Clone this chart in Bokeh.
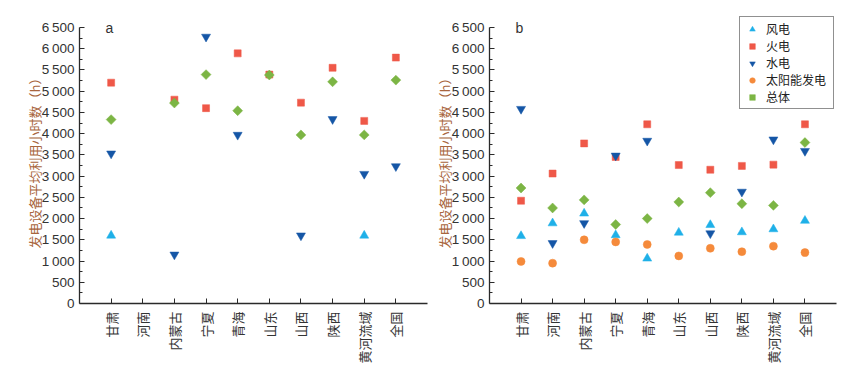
import numpy as np
from bokeh.plotting import figure
from bokeh.layouts import row
from bokeh.models import (FactorRange, Range1d, FixedTicker, Label, Legend,
                          LegendItem, ColumnDataSource)
from bokeh.embed import file_html
from bokeh.resources import INLINE

nan = float("nan")

# ---------------- data ----------------
regions = ["甘肃", "河南", "内蒙古", "宁夏", "青海", "山东", "山西", "陕西", "黄河流域", "全国"]
series_names = ["风电", "火电", "水电", "太阳能发电", "总体"]

# panel a
wind_a    = [1600, nan, nan, nan, nan, nan, nan, nan, 1600, nan]
thermal_a = [5200, nan, 4800, 4600, 5890, 5390, 4730, 5550, 4300, 5790]
hydro_a   = [3530, nan, 1150, 6280, 3970, nan, 1600, 4340, 3050, 3230]
solar_a   = [nan, nan, nan, nan, nan, nan, nan, nan, nan, nan]
total_a   = [4330, nan, 4720, 5390, 4540, 5380, 3970, 5220, 3970, 5260]

# panel b
wind_b    = [1590, 1890, 2120, 1610, 1060, 1670, 1850, 1680, 1750, 1950]
thermal_b = [2420, 3060, 3770, 3450, 4220, 3260, 3150, 3240, 3270, 4220]
hydro_b   = [4580, 1420, 1890, 3480, 3830, nan, 1650, 2630, 3860, 3590]
solar_b   = [990, 950, 1500, 1450, 1390, 1120, 1300, 1220, 1350, 1200]
total_b   = [2720, 2250, 2440, 1860, 2000, 2390, 2610, 2350, 2310, 3790]

y_ticks = [0, 500, 1000, 1500, 2000, 2500, 3000, 3500, 4000, 4500, 5000, 5500, 6000, 6500]
y_minor = [250, 750, 1250, 1750, 2250, 2750, 3250, 3750, 4250, 4750, 5250, 5750, 6250]
y_tick_labels = ["0", "500", "1\u2009000", "1\u2009500", "2\u2009000", "2\u2009500", "3\u2009000",
                 "3\u2009500", "4\u2009000", "4\u2009500", "5\u2009000", "5\u2009500", "6\u2009000",
                 "6\u2009500"]
y_label = "发电设备平均利用小时数（h）"

# ---------------- style / layout ----------------
CJK = "Noto Sans CJK SC"
LAT = "Liberation Sans"
AX = "#2a2a2a"
FRAME_H = 288          # plot frame height in px (axis itself spans the lower 277 px)
AXIS_H = 277
Y_MAX = y_ticks[-1]
Y_TOP = Y_MAX * FRAME_H / AXIS_H   # headroom so the legend can sit above the axis top

styles = [
    dict(marker="triangle", color="#1fb0e8", size=9, angle=0.0),
    dict(marker="square", color="#ef5848", size=7, angle=0.0),
    dict(marker="inverted_triangle", color="#1556a6", size=9, angle=0.0),
    dict(marker="circle", color="#f58a3b", size=8, angle=0.0),
    dict(marker="square", color="#7cb544", size=7, angle=np.pi / 4),
]


def make_panel(width, border_left, border_right, label_standoff, letter, series, with_legend):
    p = figure(width=width, height=366,
               x_range=FactorRange(factors=regions, range_padding=0.1),
               y_range=Range1d(0, Y_TOP),
               output_backend="svg", toolbar_location=None,
               min_border_left=border_left, min_border_right=border_right,
               min_border_top=16, min_border_bottom=62)
    p.outline_line_color = None
    p.xgrid.visible = False
    p.ygrid.visible = False

    renderers = []
    for vals, st in zip(series, styles):
        src = ColumnDataSource(dict(x=regions, y=np.array(vals, dtype=float)))
        r = p.scatter("x", "y", source=src, marker=st["marker"], size=st["size"],
                      angle=st["angle"], fill_color=st["color"], line_color=st["color"],
                      line_width=0.5)
        renderers.append(r)

    # y axis
    ya = p.yaxis[0]
    ya.bounds = (0, Y_MAX)
    ya.ticker = FixedTicker(ticks=y_ticks, minor_ticks=y_minor)
    ya.major_label_overrides = {t: l for t, l in zip(y_ticks, y_tick_labels)}
    ya.major_label_text_font = LAT
    ya.major_label_text_font_size = "13.5px"
    ya.major_label_text_color = "#333333"
    ya.major_label_standoff = 5
    ya.major_tick_in = 5
    ya.major_tick_out = 0
    ya.minor_tick_in = 3
    ya.minor_tick_out = 0
    ya.axis_line_color = AX
    ya.axis_line_width = 1.3
    ya.major_tick_line_color = AX
    ya.minor_tick_line_color = AX
    ya.axis_label = y_label
    ya.axis_label_text_font = CJK
    ya.axis_label_text_font_size = "13px"
    ya.axis_label_text_font_style = "normal"
    ya.axis_label_text_color = "#a8653d"
    ya.axis_label_standoff = label_standoff

    # x axis
    xa = p.xaxis[0]
    xa.major_label_orientation = np.pi / 2
    xa.major_label_text_font = CJK
    xa.major_label_text_font_size = "13px"
    xa.major_label_text_color = "#333333"
    xa.major_label_standoff = 8
    xa.major_tick_in = 5
    xa.major_tick_out = 0
    xa.axis_line_color = AX
    xa.axis_line_width = 1.3
    xa.major_tick_line_color = AX

    p.add_layout(Label(x=26, y=268, x_units="screen", y_units="screen", text=letter,
                       text_font=LAT, text_font_size="14px", text_color="#333333"))

    if with_legend:
        items = [LegendItem(label=n, renderers=[r]) for n, r in zip(series_names, renderers)]
        lg = Legend(items=items, location=(250, 194), orientation="vertical",
                    label_text_font=CJK, label_text_font_size="12px", label_text_color="#222222",
                    label_height=14, label_width=64, glyph_height=14, glyph_width=18,
                    label_standoff=5, spacing=0, padding=3, margin=0,
                    border_line_color="#222222", border_line_width=1.3,
                    background_fill_color="white", background_fill_alpha=1.0)
        p.add_layout(lg)
    return p


pa = make_panel(430, 79, 3, -5, "a", [wind_a, thermal_a, hydro_a, solar_a, total_a], False)
pb = make_panel(432, 59, 26, -5, "b", [wind_b, thermal_b, hydro_b, solar_b, total_b], True)

layout = row(pa, pb)
open("out.html", "w").write(file_html(layout, INLINE))
